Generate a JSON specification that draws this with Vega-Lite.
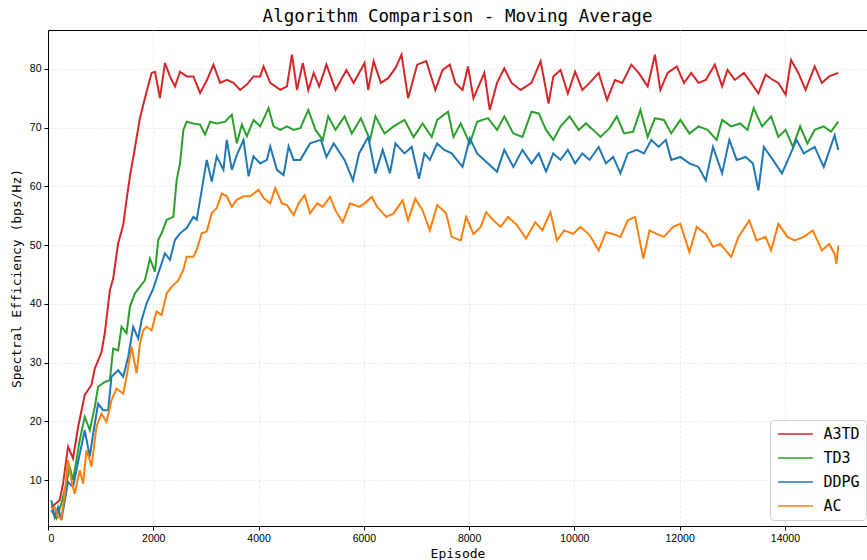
{
  "$schema": "https://vega.github.io/schema/vega-lite/v6.json",
  "width": 819,
  "height": 496,
  "autosize": {"type": "none"},
  "padding": {"left": 48, "top": 30, "right": 0, "bottom": 34},
  "background": "white",
  "title": {"text": "Algorithm Comparison - Moving Average", "font": "DejaVu Sans Mono", "fontSize": 17.5, "fontWeight": "normal", "color": "#000", "offset": 5, "anchor": "middle"},
  "data": {"values": [
{"s":"A3TD","e":63,"v":5.4},{"s":"A3TD","e":222,"v":6.6},{"s":"A3TD","e":286,"v":9.4},{"s":"A3TD","e":381,"v":15.7},{"s":"A3TD","e":476,"v":13.7},{"s":"A3TD","e":571,"v":19},{"s":"A3TD","e":698,"v":24.5},{"s":"A3TD","e":825,"v":26.2},{"s":"A3TD","e":889,"v":29},{"s":"A3TD","e":1016,"v":31.8},{"s":"A3TD","e":1079,"v":35},{"s":"A3TD","e":1175,"v":42.3},{"s":"A3TD","e":1238,"v":44.3},{"s":"A3TD","e":1333,"v":50.3},{"s":"A3TD","e":1429,"v":53.4},{"s":"A3TD","e":1492,"v":57.7},{"s":"A3TD","e":1556,"v":61.7},{"s":"A3TD","e":1651,"v":66.5},{"s":"A3TD","e":1746,"v":71.6},{"s":"A3TD","e":1841,"v":75},{"s":"A3TD","e":1968,"v":79.3},{"s":"A3TD","e":2032,"v":79.5},{"s":"A3TD","e":2127,"v":75},{"s":"A3TD","e":2222,"v":81},{"s":"A3TD","e":2317,"v":78.7},{"s":"A3TD","e":2413,"v":77},{"s":"A3TD","e":2508,"v":79.5},{"s":"A3TD","e":2635,"v":78.7},{"s":"A3TD","e":2762,"v":78.7},{"s":"A3TD","e":2889,"v":75.9},{"s":"A3TD","e":3016,"v":78},{"s":"A3TD","e":3143,"v":80.7},{"s":"A3TD","e":3270,"v":77.6},{"s":"A3TD","e":3397,"v":78.1},{"s":"A3TD","e":3524,"v":77.6},{"s":"A3TD","e":3651,"v":76.4},{"s":"A3TD","e":3778,"v":77.3},{"s":"A3TD","e":3905,"v":78.7},{"s":"A3TD","e":4032,"v":78.7},{"s":"A3TD","e":4095,"v":80.4},{"s":"A3TD","e":4222,"v":77.6},{"s":"A3TD","e":4413,"v":76.4},{"s":"A3TD","e":4540,"v":77},{"s":"A3TD","e":4635,"v":82.4},{"s":"A3TD","e":4730,"v":76.4},{"s":"A3TD","e":4841,"v":81},{"s":"A3TD","e":4945,"v":76.4},{"s":"A3TD","e":5048,"v":79.3},{"s":"A3TD","e":5152,"v":77},{"s":"A3TD","e":5290,"v":80.7},{"s":"A3TD","e":5462,"v":76.4},{"s":"A3TD","e":5669,"v":79.8},{"s":"A3TD","e":5807,"v":77.6},{"s":"A3TD","e":6014,"v":81},{"s":"A3TD","e":6083,"v":76.4},{"s":"A3TD","e":6186,"v":81.3},{"s":"A3TD","e":6324,"v":77.6},{"s":"A3TD","e":6462,"v":78.4},{"s":"A3TD","e":6600,"v":80.1},{"s":"A3TD","e":6717,"v":82.4},{"s":"A3TD","e":6841,"v":75},{"s":"A3TD","e":7014,"v":80.7},{"s":"A3TD","e":7186,"v":81.3},{"s":"A3TD","e":7359,"v":76.4},{"s":"A3TD","e":7497,"v":79.8},{"s":"A3TD","e":7634,"v":80.7},{"s":"A3TD","e":7738,"v":77.6},{"s":"A3TD","e":7876,"v":76.4},{"s":"A3TD","e":7979,"v":80.4},{"s":"A3TD","e":8083,"v":75},{"s":"A3TD","e":8290,"v":79.3},{"s":"A3TD","e":8393,"v":73},{"s":"A3TD","e":8531,"v":77.6},{"s":"A3TD","e":8669,"v":80.1},{"s":"A3TD","e":8807,"v":77.6},{"s":"A3TD","e":8979,"v":76.4},{"s":"A3TD","e":9186,"v":77.6},{"s":"A3TD","e":9359,"v":81.3},{"s":"A3TD","e":9510,"v":74.1},{"s":"A3TD","e":9600,"v":78.7},{"s":"A3TD","e":9738,"v":79.8},{"s":"A3TD","e":9876,"v":75.8},{"s":"A3TD","e":10014,"v":79.5},{"s":"A3TD","e":10152,"v":76.4},{"s":"A3TD","e":10290,"v":77.6},{"s":"A3TD","e":10462,"v":79.3},{"s":"A3TD","e":10621,"v":74.7},{"s":"A3TD","e":10772,"v":78.1},{"s":"A3TD","e":10910,"v":77.6},{"s":"A3TD","e":11083,"v":80.7},{"s":"A3TD","e":11221,"v":79.3},{"s":"A3TD","e":11393,"v":77},{"s":"A3TD","e":11531,"v":82.4},{"s":"A3TD","e":11634,"v":76.4},{"s":"A3TD","e":11772,"v":79.3},{"s":"A3TD","e":11945,"v":80.4},{"s":"A3TD","e":12083,"v":77.6},{"s":"A3TD","e":12221,"v":79.3},{"s":"A3TD","e":12359,"v":77.6},{"s":"A3TD","e":12497,"v":78.1},{"s":"A3TD","e":12669,"v":80.7},{"s":"A3TD","e":12807,"v":77},{"s":"A3TD","e":12910,"v":79.8},{"s":"A3TD","e":13048,"v":78.1},{"s":"A3TD","e":13221,"v":79.3},{"s":"A3TD","e":13359,"v":77.6},{"s":"A3TD","e":13497,"v":75.8},{"s":"A3TD","e":13634,"v":79},{"s":"A3TD","e":13772,"v":78.1},{"s":"A3TD","e":13876,"v":77.6},{"s":"A3TD","e":14014,"v":75.6},{"s":"A3TD","e":14117,"v":81.5},{"s":"A3TD","e":14255,"v":79.3},{"s":"A3TD","e":14393,"v":76.4},{"s":"A3TD","e":14566,"v":80.4},{"s":"A3TD","e":14703,"v":77.6},{"s":"A3TD","e":14841,"v":78.7},{"s":"A3TD","e":15014,"v":79.3},
{"s":"TD3","e":63,"v":4.9},{"s":"TD3","e":159,"v":3.5},{"s":"TD3","e":254,"v":6},{"s":"TD3","e":349,"v":9.4},{"s":"TD3","e":413,"v":12.3},{"s":"TD3","e":476,"v":10},{"s":"TD3","e":603,"v":16.8},{"s":"TD3","e":698,"v":20.8},{"s":"TD3","e":794,"v":18.5},{"s":"TD3","e":889,"v":22.5},{"s":"TD3","e":952,"v":25.9},{"s":"TD3","e":1079,"v":26.7},{"s":"TD3","e":1175,"v":27},{"s":"TD3","e":1238,"v":32.4},{"s":"TD3","e":1333,"v":32.1},{"s":"TD3","e":1397,"v":36.1},{"s":"TD3","e":1492,"v":35},{"s":"TD3","e":1556,"v":39.5},{"s":"TD3","e":1651,"v":41.8},{"s":"TD3","e":1746,"v":42.9},{"s":"TD3","e":1841,"v":44},{"s":"TD3","e":1937,"v":47.7},{"s":"TD3","e":2032,"v":45.5},{"s":"TD3","e":2095,"v":50.9},{"s":"TD3","e":2159,"v":52},{"s":"TD3","e":2254,"v":54.3},{"s":"TD3","e":2381,"v":54.8},{"s":"TD3","e":2445,"v":61.1},{"s":"TD3","e":2508,"v":63.9},{"s":"TD3","e":2572,"v":69.6},{"s":"TD3","e":2635,"v":71},{"s":"TD3","e":2762,"v":70.7},{"s":"TD3","e":2889,"v":70.5},{"s":"TD3","e":2984,"v":68.8},{"s":"TD3","e":3079,"v":71},{"s":"TD3","e":3206,"v":70.7},{"s":"TD3","e":3365,"v":71},{"s":"TD3","e":3492,"v":72.2},{"s":"TD3","e":3587,"v":67.3},{"s":"TD3","e":3683,"v":70.5},{"s":"TD3","e":3778,"v":68.5},{"s":"TD3","e":3905,"v":71.3},{"s":"TD3","e":4032,"v":70.2},{"s":"TD3","e":4190,"v":73.3},{"s":"TD3","e":4286,"v":70.2},{"s":"TD3","e":4413,"v":69.6},{"s":"TD3","e":4540,"v":70.2},{"s":"TD3","e":4667,"v":69.6},{"s":"TD3","e":4794,"v":69.9},{"s":"TD3","e":4945,"v":73},{"s":"TD3","e":5083,"v":69.6},{"s":"TD3","e":5221,"v":67.9},{"s":"TD3","e":5324,"v":71.9},{"s":"TD3","e":5462,"v":69.6},{"s":"TD3","e":5634,"v":71.9},{"s":"TD3","e":5772,"v":69},{"s":"TD3","e":5945,"v":71.6},{"s":"TD3","e":6117,"v":67.9},{"s":"TD3","e":6221,"v":71.9},{"s":"TD3","e":6393,"v":69},{"s":"TD3","e":6566,"v":70.2},{"s":"TD3","e":6772,"v":71.3},{"s":"TD3","e":6945,"v":68.4},{"s":"TD3","e":7117,"v":70.7},{"s":"TD3","e":7290,"v":68.4},{"s":"TD3","e":7393,"v":71.3},{"s":"TD3","e":7600,"v":72.7},{"s":"TD3","e":7703,"v":68.4},{"s":"TD3","e":7841,"v":70.7},{"s":"TD3","e":8014,"v":67.3},{"s":"TD3","e":8152,"v":71},{"s":"TD3","e":8359,"v":71.6},{"s":"TD3","e":8531,"v":69.6},{"s":"TD3","e":8669,"v":71.9},{"s":"TD3","e":8841,"v":69},{"s":"TD3","e":9014,"v":68.4},{"s":"TD3","e":9186,"v":72.7},{"s":"TD3","e":9324,"v":72.4},{"s":"TD3","e":9462,"v":69.6},{"s":"TD3","e":9600,"v":67.9},{"s":"TD3","e":9738,"v":70.2},{"s":"TD3","e":9910,"v":71.9},{"s":"TD3","e":10083,"v":69.6},{"s":"TD3","e":10221,"v":70.7},{"s":"TD3","e":10359,"v":69.6},{"s":"TD3","e":10497,"v":68.4},{"s":"TD3","e":10669,"v":69.9},{"s":"TD3","e":10807,"v":71.9},{"s":"TD3","e":10945,"v":69},{"s":"TD3","e":11117,"v":69.3},{"s":"TD3","e":11255,"v":73},{"s":"TD3","e":11393,"v":68.4},{"s":"TD3","e":11531,"v":71.6},{"s":"TD3","e":11703,"v":71.3},{"s":"TD3","e":11841,"v":69},{"s":"TD3","e":12014,"v":71.3},{"s":"TD3","e":12186,"v":69},{"s":"TD3","e":12359,"v":70.2},{"s":"TD3","e":12531,"v":69.6},{"s":"TD3","e":12703,"v":67.9},{"s":"TD3","e":12807,"v":71.3},{"s":"TD3","e":12979,"v":70.2},{"s":"TD3","e":13152,"v":70.7},{"s":"TD3","e":13290,"v":69.6},{"s":"TD3","e":13407,"v":73.3},{"s":"TD3","e":13566,"v":70.2},{"s":"TD3","e":13738,"v":71.9},{"s":"TD3","e":13876,"v":68.4},{"s":"TD3","e":14014,"v":69.6},{"s":"TD3","e":14152,"v":66.7},{"s":"TD3","e":14290,"v":70.2},{"s":"TD3","e":14428,"v":67.3},{"s":"TD3","e":14566,"v":69.6},{"s":"TD3","e":14738,"v":70.2},{"s":"TD3","e":14876,"v":69.3},{"s":"TD3","e":15014,"v":71},
{"s":"DDPG","e":63,"v":6.6},{"s":"DDPG","e":127,"v":3.7},{"s":"DDPG","e":190,"v":5.4},{"s":"DDPG","e":254,"v":3.2},{"s":"DDPG","e":381,"v":9.7},{"s":"DDPG","e":476,"v":8.8},{"s":"DDPG","e":571,"v":13.1},{"s":"DDPG","e":698,"v":18.5},{"s":"DDPG","e":794,"v":14},{"s":"DDPG","e":857,"v":17.9},{"s":"DDPG","e":952,"v":23},{"s":"DDPG","e":1048,"v":21.9},{"s":"DDPG","e":1143,"v":21.9},{"s":"DDPG","e":1206,"v":27.6},{"s":"DDPG","e":1333,"v":28.7},{"s":"DDPG","e":1429,"v":27.6},{"s":"DDPG","e":1524,"v":31},{"s":"DDPG","e":1619,"v":36.1},{"s":"DDPG","e":1714,"v":34.1},{"s":"DDPG","e":1778,"v":37.2},{"s":"DDPG","e":1873,"v":40.1},{"s":"DDPG","e":2000,"v":42.6},{"s":"DDPG","e":2095,"v":45.2},{"s":"DDPG","e":2222,"v":48.6},{"s":"DDPG","e":2317,"v":47.5},{"s":"DDPG","e":2413,"v":50.9},{"s":"DDPG","e":2508,"v":52},{"s":"DDPG","e":2635,"v":52.9},{"s":"DDPG","e":2762,"v":54.8},{"s":"DDPG","e":2825,"v":54.3},{"s":"DDPG","e":2921,"v":59.4},{"s":"DDPG","e":3016,"v":64.5},{"s":"DDPG","e":3111,"v":60.8},{"s":"DDPG","e":3206,"v":65.1},{"s":"DDPG","e":3333,"v":62.8},{"s":"DDPG","e":3397,"v":67.9},{"s":"DDPG","e":3492,"v":62.8},{"s":"DDPG","e":3587,"v":65.3},{"s":"DDPG","e":3714,"v":67.9},{"s":"DDPG","e":3810,"v":61.7},{"s":"DDPG","e":3905,"v":65.1},{"s":"DDPG","e":4032,"v":63.9},{"s":"DDPG","e":4159,"v":64.5},{"s":"DDPG","e":4222,"v":66.8},{"s":"DDPG","e":4349,"v":62.8},{"s":"DDPG","e":4476,"v":61.9},{"s":"DDPG","e":4571,"v":66.8},{"s":"DDPG","e":4667,"v":64.5},{"s":"DDPG","e":4794,"v":64.5},{"s":"DDPG","e":4979,"v":67.3},{"s":"DDPG","e":5186,"v":67.9},{"s":"DDPG","e":5290,"v":65},{"s":"DDPG","e":5428,"v":67.3},{"s":"DDPG","e":5634,"v":64.5},{"s":"DDPG","e":5793,"v":61},{"s":"DDPG","e":5910,"v":65.6},{"s":"DDPG","e":6083,"v":68.4},{"s":"DDPG","e":6221,"v":62.2},{"s":"DDPG","e":6359,"v":66.2},{"s":"DDPG","e":6497,"v":62.2},{"s":"DDPG","e":6600,"v":67.3},{"s":"DDPG","e":6772,"v":65.6},{"s":"DDPG","e":6910,"v":66.7},{"s":"DDPG","e":7048,"v":61.3},{"s":"DDPG","e":7152,"v":65.6},{"s":"DDPG","e":7255,"v":64.5},{"s":"DDPG","e":7393,"v":67.3},{"s":"DDPG","e":7531,"v":66.2},{"s":"DDPG","e":7669,"v":65.6},{"s":"DDPG","e":7876,"v":63.3},{"s":"DDPG","e":8014,"v":68.2},{"s":"DDPG","e":8152,"v":65.6},{"s":"DDPG","e":8359,"v":63.9},{"s":"DDPG","e":8531,"v":62.5},{"s":"DDPG","e":8669,"v":66.2},{"s":"DDPG","e":8841,"v":63.3},{"s":"DDPG","e":9014,"v":66.2},{"s":"DDPG","e":9186,"v":63.9},{"s":"DDPG","e":9324,"v":65.6},{"s":"DDPG","e":9462,"v":62.5},{"s":"DDPG","e":9600,"v":65.6},{"s":"DDPG","e":9738,"v":64.5},{"s":"DDPG","e":9876,"v":66.2},{"s":"DDPG","e":10014,"v":63.9},{"s":"DDPG","e":10152,"v":65.6},{"s":"DDPG","e":10290,"v":64.5},{"s":"DDPG","e":10462,"v":66.7},{"s":"DDPG","e":10600,"v":63.9},{"s":"DDPG","e":10738,"v":65},{"s":"DDPG","e":10876,"v":62.2},{"s":"DDPG","e":11014,"v":65.6},{"s":"DDPG","e":11186,"v":66.2},{"s":"DDPG","e":11324,"v":65.6},{"s":"DDPG","e":11462,"v":67.9},{"s":"DDPG","e":11600,"v":66.7},{"s":"DDPG","e":11738,"v":67.9},{"s":"DDPG","e":11841,"v":64.5},{"s":"DDPG","e":12014,"v":65},{"s":"DDPG","e":12186,"v":63.9},{"s":"DDPG","e":12359,"v":63.3},{"s":"DDPG","e":12497,"v":61},{"s":"DDPG","e":12634,"v":66.7},{"s":"DDPG","e":12807,"v":62.2},{"s":"DDPG","e":12945,"v":67.9},{"s":"DDPG","e":13083,"v":64.5},{"s":"DDPG","e":13255,"v":65},{"s":"DDPG","e":13393,"v":63.9},{"s":"DDPG","e":13497,"v":59.3},{"s":"DDPG","e":13600,"v":66.7},{"s":"DDPG","e":13772,"v":64.5},{"s":"DDPG","e":13945,"v":62.2},{"s":"DDPG","e":14083,"v":65},{"s":"DDPG","e":14221,"v":67.9},{"s":"DDPG","e":14359,"v":65.6},{"s":"DDPG","e":14566,"v":66.7},{"s":"DDPG","e":14738,"v":63.3},{"s":"DDPG","e":14945,"v":68.7},{"s":"DDPG","e":15014,"v":66.2},
{"s":"AC","e":63,"v":5.2},{"s":"AC","e":127,"v":5.4},{"s":"AC","e":190,"v":3.7},{"s":"AC","e":254,"v":3.5},{"s":"AC","e":317,"v":7.7},{"s":"AC","e":381,"v":13.4},{"s":"AC","e":444,"v":10},{"s":"AC","e":508,"v":7.7},{"s":"AC","e":603,"v":11.7},{"s":"AC","e":667,"v":9.4},{"s":"AC","e":730,"v":15.1},{"s":"AC","e":794,"v":13.4},{"s":"AC","e":825,"v":12.3},{"s":"AC","e":921,"v":19.1},{"s":"AC","e":1016,"v":21.3},{"s":"AC","e":1111,"v":19.9},{"s":"AC","e":1206,"v":23.6},{"s":"AC","e":1302,"v":25.6},{"s":"AC","e":1429,"v":24.7},{"s":"AC","e":1492,"v":27.6},{"s":"AC","e":1587,"v":32.7},{"s":"AC","e":1683,"v":28.2},{"s":"AC","e":1746,"v":33.2},{"s":"AC","e":1810,"v":35.5},{"s":"AC","e":1873,"v":36.1},{"s":"AC","e":1968,"v":35.5},{"s":"AC","e":2063,"v":38.7},{"s":"AC","e":2159,"v":38.1},{"s":"AC","e":2254,"v":41.8},{"s":"AC","e":2349,"v":42.9},{"s":"AC","e":2476,"v":44},{"s":"AC","e":2572,"v":45.8},{"s":"AC","e":2635,"v":48},{"s":"AC","e":2762,"v":48},{"s":"AC","e":2825,"v":49.2},{"s":"AC","e":2921,"v":52},{"s":"AC","e":3016,"v":52.3},{"s":"AC","e":3111,"v":55.4},{"s":"AC","e":3206,"v":56.3},{"s":"AC","e":3302,"v":58.8},{"s":"AC","e":3397,"v":58.3},{"s":"AC","e":3492,"v":56.5},{"s":"AC","e":3587,"v":57.7},{"s":"AC","e":3714,"v":58.3},{"s":"AC","e":3841,"v":58.3},{"s":"AC","e":4000,"v":59.4},{"s":"AC","e":4095,"v":58},{"s":"AC","e":4222,"v":57.1},{"s":"AC","e":4317,"v":59.7},{"s":"AC","e":4444,"v":57.1},{"s":"AC","e":4540,"v":56.8},{"s":"AC","e":4667,"v":55.1},{"s":"AC","e":4762,"v":57.1},{"s":"AC","e":4876,"v":58.5},{"s":"AC","e":4979,"v":55.4},{"s":"AC","e":5117,"v":57.1},{"s":"AC","e":5221,"v":56.5},{"s":"AC","e":5359,"v":58.2},{"s":"AC","e":5462,"v":55.9},{"s":"AC","e":5600,"v":53.9},{"s":"AC","e":5738,"v":57.1},{"s":"AC","e":5910,"v":56.5},{"s":"AC","e":6014,"v":57.1},{"s":"AC","e":6152,"v":58.2},{"s":"AC","e":6255,"v":56.5},{"s":"AC","e":6428,"v":54.8},{"s":"AC","e":6566,"v":55.4},{"s":"AC","e":6738,"v":57.6},{"s":"AC","e":6841,"v":54.2},{"s":"AC","e":6979,"v":57.9},{"s":"AC","e":7117,"v":55.9},{"s":"AC","e":7255,"v":52.5},{"s":"AC","e":7393,"v":56.8},{"s":"AC","e":7566,"v":55.4},{"s":"AC","e":7669,"v":51.4},{"s":"AC","e":7841,"v":50.8},{"s":"AC","e":7945,"v":54.8},{"s":"AC","e":8083,"v":51.9},{"s":"AC","e":8221,"v":53.1},{"s":"AC","e":8324,"v":55.6},{"s":"AC","e":8462,"v":54.2},{"s":"AC","e":8600,"v":53.1},{"s":"AC","e":8738,"v":54.8},{"s":"AC","e":8910,"v":53.4},{"s":"AC","e":9083,"v":51.1},{"s":"AC","e":9255,"v":53.9},{"s":"AC","e":9393,"v":52.5},{"s":"AC","e":9545,"v":55.6},{"s":"AC","e":9669,"v":50.8},{"s":"AC","e":9807,"v":52.5},{"s":"AC","e":9979,"v":51.9},{"s":"AC","e":10117,"v":53.1},{"s":"AC","e":10290,"v":51.7},{"s":"AC","e":10462,"v":49.1},{"s":"AC","e":10600,"v":52.2},{"s":"AC","e":10738,"v":51.9},{"s":"AC","e":10876,"v":51.4},{"s":"AC","e":11014,"v":54.2},{"s":"AC","e":11152,"v":54.8},{"s":"AC","e":11310,"v":47.7},{"s":"AC","e":11428,"v":52.5},{"s":"AC","e":11566,"v":51.9},{"s":"AC","e":11703,"v":51.4},{"s":"AC","e":11876,"v":53.1},{"s":"AC","e":12014,"v":53.6},{"s":"AC","e":12186,"v":48.8},{"s":"AC","e":12324,"v":53.1},{"s":"AC","e":12497,"v":51.9},{"s":"AC","e":12634,"v":49.7},{"s":"AC","e":12772,"v":50.2},{"s":"AC","e":12979,"v":48},{"s":"AC","e":13117,"v":51.4},{"s":"AC","e":13324,"v":54.2},{"s":"AC","e":13462,"v":50.8},{"s":"AC","e":13634,"v":51.4},{"s":"AC","e":13738,"v":49.1},{"s":"AC","e":13876,"v":53.6},{"s":"AC","e":14048,"v":51.4},{"s":"AC","e":14186,"v":50.8},{"s":"AC","e":14359,"v":51.4},{"s":"AC","e":14531,"v":52.5},{"s":"AC","e":14703,"v":49.1},{"s":"AC","e":14841,"v":50.2},{"s":"AC","e":14945,"v":48.5},{"s":"AC","e":14979,"v":46.8},{"s":"AC","e":15014,"v":49.9}
  ]},
  "mark": {"type": "line", "strokeWidth": 2, "interpolate": "linear"},
  "encoding": {
    "x": {"field": "e", "type": "quantitative", "scale": {"domain": [0, 15560], "nice": false, "zero": false},
      "axis": {"title": "Episode", "values": [0, 2000, 4000, 6000, 8000, 10000, 12000, 14000], "format": "d", "titlePadding": 4}},
    "y": {"field": "v", "type": "quantitative", "scale": {"domain": [2.2, 86.6], "nice": false, "zero": false},
      "axis": {"title": "Spectral Efficiency (bps/Hz)", "values": [10, 20, 30, 40, 50, 60, 70, 80], "titlePadding": 6}},
    "color": {"field": "s", "type": "nominal",
      "scale": {"domain": ["A3TD", "TD3", "DDPG", "AC"], "range": ["#d62728", "#2ca02c", "#1f77b4", "#ff7f0e"]},
      "legend": {"title": null, "orient": "none", "legendX": 722, "legendY": 390, "symbolType": "M-2.5,0H2.5", "symbolSize": 196, "symbolStrokeWidth": 1.5, "symbolOffset": 11.5, "labelFont": "DejaVu Sans Mono", "labelFontSize": 15, "labelColor": "#000", "labelOffset": 20, "padding": 6, "rowPadding": 8, "strokeColor": "#d0d0d0", "fillColor": "white", "cornerRadius": 4}}
  },
  "config": {
    "view": {"stroke": "#000", "strokeWidth": 1},
    "axis": {"domainColor": "#000", "domainWidth": 1, "tickColor": "#000", "tickSize": 4, "tickWidth": 1,
      "labelFont": "Liberation Sans", "labelFontSize": 10.5, "labelColor": "#000", "labelPadding": 3,
      "titleFont": "DejaVu Sans Mono", "titleFontSize": 13, "titleFontWeight": "normal", "titleColor": "#000",
      "grid": true, "gridColor": "#e6e6e6", "gridDash": [3, 2], "gridWidth": 0.8}
  }
}
